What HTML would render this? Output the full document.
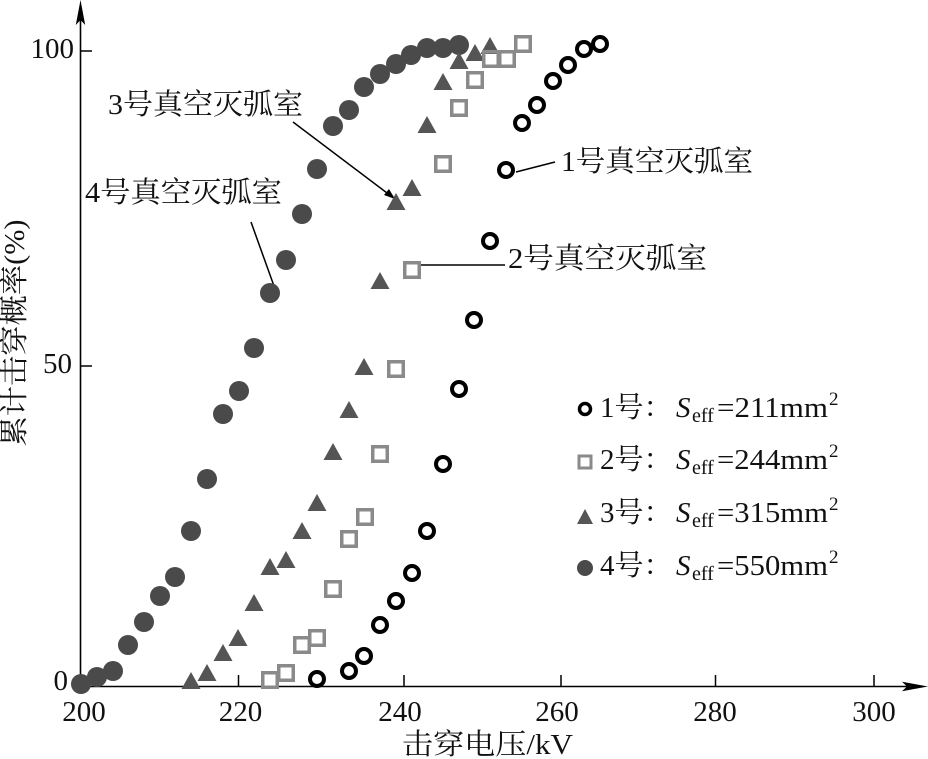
<!DOCTYPE html>
<html><head><meta charset="utf-8">
<style>
html,body{margin:0;padding:0;background:#fff;}
svg{display:block;}
text{font-family:"Liberation Serif","Noto Serif CJK SC",serif;fill:#111;}
</style></head>
<body>
<svg width="928" height="759" viewBox="0 0 928 759" xmlns="http://www.w3.org/2000/svg">
<!-- axes -->
<line x1="80.5" y1="12" x2="80.5" y2="687" stroke="#000" stroke-width="1.6"/>
<line x1="80" y1="686.5" x2="912" y2="686.5" stroke="#000" stroke-width="1.6"/>
<polygon points="80.5,0 75.8,25 80.5,20 85.2,25" fill="#000"/>
<polygon points="928,686.5 902,681.8 907,686.5 902,691.2" fill="#000"/>
<!-- x ticks -->
<g stroke="#000" stroke-width="1.5">
<line x1="238.5" y1="686" x2="238.5" y2="675"/>
<line x1="404" y1="686" x2="404" y2="675"/>
<line x1="561" y1="686" x2="561" y2="675"/>
<line x1="715.5" y1="686" x2="715.5" y2="675"/>
<line x1="874" y1="686" x2="874" y2="675"/>
<line x1="80" y1="51" x2="92" y2="51"/>
<line x1="80" y1="366" x2="92" y2="366"/>
</g>
<!-- tick labels -->
<g font-size="29" text-anchor="middle">
<text x="84" y="721">200</text>
<text x="240.5" y="721">220</text>
<text x="400" y="721">240</text>
<text x="557" y="721">260</text>
<text x="715" y="721">280</text>
<text x="874" y="721">300</text>
</g>
<g font-size="29" text-anchor="end">
<text x="74" y="58">100</text>
<text x="72" y="373">50</text>
<text x="68" y="690">0</text>
</g>
<!-- axis titles -->
<text x="402" y="754" font-size="29" textLength="171" lengthAdjust="spacingAndGlyphs">击穿电压/kV</text>
<text transform="translate(24,333) rotate(-90)" x="0" y="0" font-size="29" text-anchor="middle" textLength="227" lengthAdjust="spacingAndGlyphs">累计击穿概率(%)</text>

<!-- annotations -->
<g font-size="29">
<text x="108" y="114" textLength="195" lengthAdjust="spacingAndGlyphs">3号真空灭弧室</text>
<text x="85" y="202" textLength="197" lengthAdjust="spacingAndGlyphs">4号真空灭弧室</text>
<text x="561" y="171" textLength="192" lengthAdjust="spacingAndGlyphs">1号真空灭弧室</text>
<text x="508" y="268" textLength="199" lengthAdjust="spacingAndGlyphs">2号真空灭弧室</text>
</g>
<g stroke="#000" stroke-width="1.5">
<line x1="293" y1="122" x2="391" y2="196"/>
<line x1="251" y1="222" x2="274" y2="286"/>
<line x1="516" y1="172" x2="555" y2="162"/>
<line x1="418" y1="265" x2="505" y2="265"/>
</g>
<polygon points="395,199 384,195 389,189" fill="#000"/>

<!-- series 4: filled circles -->
<g fill="#4a4a4a">
<circle cx="81" cy="684" r="10"/><circle cx="97" cy="677" r="10"/><circle cx="113" cy="671" r="10"/>
<circle cx="128" cy="645" r="10"/><circle cx="144" cy="622" r="10"/><circle cx="160" cy="596" r="10"/>
<circle cx="175" cy="577" r="10"/><circle cx="191" cy="531" r="10"/><circle cx="207" cy="479" r="10"/>
<circle cx="223" cy="414" r="10"/><circle cx="239" cy="391" r="10"/><circle cx="254" cy="348" r="10"/>
<circle cx="270" cy="293" r="10"/><circle cx="286" cy="260" r="10"/><circle cx="302" cy="214" r="10"/>
<circle cx="317" cy="169" r="10"/><circle cx="333" cy="126" r="10"/><circle cx="349" cy="110" r="10"/>
<circle cx="364" cy="87" r="10"/><circle cx="380" cy="74" r="10"/><circle cx="396" cy="64" r="10"/>
<circle cx="411" cy="55" r="10"/><circle cx="427" cy="48" r="10"/><circle cx="443" cy="48" r="10"/>
<circle cx="459" cy="45" r="10"/>
</g>

<!-- series 3: triangles -->
<g fill="#555">
<polygon points="191,672 181.5,689 200.5,689"/>
<polygon points="207,664 197.5,681 216.5,681"/>
<polygon points="223,644 213.5,661 232.5,661"/>
<polygon points="238,629 228.5,646 247.5,646"/>
<polygon points="254,594 244.5,611 263.5,611"/>
<polygon points="270,558 260.5,575 279.5,575"/>
<polygon points="286,551 276.5,568 295.5,568"/>
<polygon points="302,522 292.5,539 311.5,539"/>
<polygon points="317,494 307.5,511 326.5,511"/>
<polygon points="333,443 323.5,460 342.5,460"/>
<polygon points="349,401 339.5,418 358.5,418"/>
<polygon points="364,358 354.5,375 373.5,375"/>
<polygon points="380,272 370.5,289 389.5,289"/>
<polygon points="396,193 386.5,210 405.5,210"/>
<polygon points="412,179 402.5,196 421.5,196"/>
<polygon points="427,116 417.5,133 436.5,133"/>
<polygon points="443,73 433.5,90 452.5,90"/>
<polygon points="459,52 449.5,69 468.5,69"/>
<polygon points="475,44 465.5,61 484.5,61"/>
<polygon points="490,37 480.5,54 499.5,54"/>
</g>

<!-- series 2: hollow squares -->
<g fill="none" stroke="#8a8a8a" stroke-width="3.5">
<rect x="262.75" y="672.75" width="14.5" height="14.5"/>
<rect x="278.75" y="665.75" width="14.5" height="14.5"/>
<rect x="294.75" y="637.75" width="14.5" height="14.5"/>
<rect x="309.75" y="630.75" width="14.5" height="14.5"/>
<rect x="325.75" y="581.75" width="14.5" height="14.5"/>
<rect x="341.75" y="531.75" width="14.5" height="14.5"/>
<rect x="357.75" y="509.75" width="14.5" height="14.5"/>
<rect x="372.75" y="446.75" width="14.5" height="14.5"/>
<rect x="388.75" y="361.75" width="14.5" height="14.5"/>
<rect x="404.75" y="262.75" width="14.5" height="14.5"/>
<rect x="435.75" y="156.75" width="14.5" height="14.5"/>
<rect x="451.75" y="100.75" width="14.5" height="14.5"/>
<rect x="467.75" y="72.75" width="14.5" height="14.5"/>
<rect x="483.75" y="51.75" width="14.5" height="14.5"/>
<rect x="499.75" y="51.75" width="14.5" height="14.5"/>
<rect x="515.75" y="36.75" width="14.5" height="14.5"/>
</g>

<!-- series 1: open circles -->
<g fill="none" stroke="#000" stroke-width="4">
<circle cx="317" cy="679" r="7"/><circle cx="349" cy="671" r="7"/><circle cx="364" cy="656" r="7"/>
<circle cx="380" cy="625" r="7"/><circle cx="396" cy="601" r="7"/><circle cx="412" cy="573" r="7"/>
<circle cx="427" cy="531" r="7"/><circle cx="443" cy="464" r="7"/><circle cx="459" cy="389" r="7"/>
<circle cx="474" cy="320" r="7"/><circle cx="490" cy="241" r="7"/><circle cx="506" cy="170" r="7"/>
<circle cx="522" cy="123" r="7"/><circle cx="537" cy="105" r="7"/><circle cx="553" cy="81" r="7"/>
<circle cx="568" cy="65" r="7"/><circle cx="584" cy="49" r="7"/><circle cx="600" cy="44" r="7"/>
</g>

<!-- legend -->
<circle cx="585" cy="409" r="5.5" fill="none" stroke="#000" stroke-width="3.5"/>
<rect x="579" y="456" width="12" height="12" fill="none" stroke="#8a8a8a" stroke-width="3"/>
<polygon points="585,509 577,524 593,524" fill="#555"/>
<circle cx="585" cy="568" r="8" fill="#4a4a4a"/>

<g font-size="29">
<text x="600" y="417">1号：</text>
<text x="676" y="417" font-style="italic">S</text>
<text x="692" y="422" font-size="20">eff</text>
<text x="717" y="417" textLength="111" lengthAdjust="spacingAndGlyphs">=211mm</text>
<text x="829" y="405" font-size="19">2</text>

<text x="600" y="469">2号：</text>
<text x="676" y="469" font-style="italic">S</text>
<text x="692" y="474" font-size="20">eff</text>
<text x="717" y="469" textLength="111" lengthAdjust="spacingAndGlyphs">=244mm</text>
<text x="829" y="457" font-size="19">2</text>

<text x="600" y="522">3号：</text>
<text x="676" y="522" font-style="italic">S</text>
<text x="692" y="527" font-size="20">eff</text>
<text x="717" y="522" textLength="111" lengthAdjust="spacingAndGlyphs">=315mm</text>
<text x="829" y="510" font-size="19">2</text>

<text x="600" y="575">4号：</text>
<text x="676" y="575" font-style="italic">S</text>
<text x="692" y="580" font-size="20">eff</text>
<text x="717" y="575" textLength="111" lengthAdjust="spacingAndGlyphs">=550mm</text>
<text x="829" y="563" font-size="19">2</text>
</g>
</svg>
</body></html>
